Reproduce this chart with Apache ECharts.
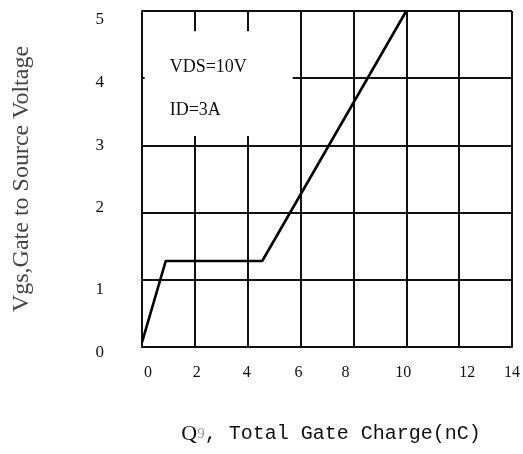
<!DOCTYPE html>
<html><head><meta charset="utf-8">
<script src="https://cdn.jsdelivr.net/npm/echarts@6/dist/echarts.min.js"></script>
<style>html,body{margin:0;padding:0;background:#fff}#c{width:523px;height:454px}</style>
</head><body><div id="c"></div>
<script>
// Data
const qg = [0, 0.9, 4.55, 10];          // total gate charge (nC)
const vgs = [0.07, 1.28, 1.28, 5];      // gate-to-source voltage (V)
const xTicks = [0, 2, 4, 6, 8, 10, 12, 14];
const yTicks = [0, 1, 2, 3, 4, 5];
const noteLines = ['VDS=10V', 'ID=3A'];
const xTitle = ['Q', '9', ', Total Gate Charge(nC)'];
const yTitle = 'Vgs,Gate to Source Voltage';

// small per-label nudges (px) to mimic the scanned layout
const xShift = {0: 6, 2: 2, 4: -1, 6: -2, 8: -8, 10: -3, 12: 8, 14: 0};
const yShift = {0: 6, 1: 10, 2: -5, 3: 0, 4: 4, 5: 9};

const serif = '"Liberation Serif","Times New Roman",serif';
const mono = '"Liberation Mono","DejaVu Sans Mono",monospace';

const xRich = {}, yRich = {};
xTicks.forEach(v => {
  const d = xShift[v] || 0;
  xRich['x' + v] = {fontFamily: serif, fontSize: 16, color: '#111',
    padding: d >= 0 ? [0, 0, 0, 2 * d] : [0, -2 * d, 0, 0]};
});
yTicks.forEach(v => {
  const d = yShift[v] || 0;
  yRich['y' + v] = {fontFamily: serif, fontSize: 17, color: '#111',
    padding: d >= 0 ? [2 * d, 0, 0, 0] : [0, 0, -2 * d, 0]};
});

const chart = echarts.init(document.getElementById('c'), null, {renderer: 'canvas'});
chart.setOption({
  animation: false,
  backgroundColor: '#fff',
  grid: {left: 142, right: 10, top: 11, bottom: 107},
  xAxis: {
    type: 'value', min: 0, max: 14, interval: 2,
    axisLine: {show: true, onZero: false, lineStyle: {color: '#111', width: 2}},
    axisTick: {show: false},
    splitLine: {show: true, lineStyle: {color: '#111', width: 2}},
    axisLabel: {margin: 18, formatter: v => '{x' + v + '|' + v + '}', rich: xRich},
    name: '{q|' + xTitle[0] + '}{s|' + xTitle[1] + '}{m|' + xTitle[2] + '}',
    nameLocation: 'middle', nameGap: 76,
    nameTextStyle: {padding: [0, 0, 0, 8], rich: {
      q: {fontFamily: serif, fontSize: 22, color: '#111'},
      s: {fontFamily: serif, fontSize: 15, color: '#999'},
      m: {fontFamily: mono, fontSize: 20, color: '#111'}
    }}
  },
  yAxis: {
    type: 'value', min: 0, max: 5, interval: 1,
    axisLine: {show: true, lineStyle: {color: '#111', width: 2}},
    axisTick: {show: false},
    splitLine: {show: true, lineStyle: {color: '#111', width: 2}},
    axisLabel: {margin: 38, formatter: v => '{y' + v + '|' + v + '}', rich: yRich},
    name: yTitle, nameLocation: 'middle', nameGap: 108, nameRotate: 90,
    nameTextStyle: {fontFamily: serif, fontSize: 24, color: '#444'}
  },
  series: [{
    type: 'line',
    data: qg.map((x, i) => [x, vgs[i]]),
    symbol: 'none',
    lineStyle: {color: '#000', width: 2.6},
    z: 5,
    markArea: {
      silent: true,
      itemStyle: {color: '#fff', opacity: 1},
      label: {
        show: true, position: 'insideTopLeft', offset: [20, 10],
        formatter: '{a|' + noteLines[0] + '}\n{a|' + noteLines[1] + '}',
        rich: {a: {fontFamily: serif, fontSize: 18, color: '#111', lineHeight: 43}}
      },
      data: [[{coord: [0.1, 4.7]}, {coord: [5.7, 3.14]}]]
    }
  }]
});
</script></body></html>
